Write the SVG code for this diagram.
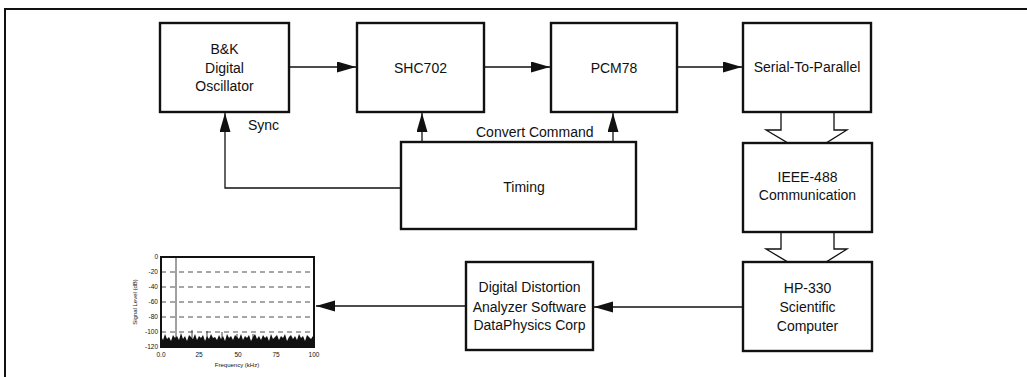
<svg xmlns="http://www.w3.org/2000/svg" width="1027" height="377" viewBox="0 0 1027 377">
<style>
.box{fill:#fff;stroke:#111;stroke-width:2.4}
.lbl{font-family:"Liberation Sans",Arial,sans-serif;font-size:14px;fill:#111;text-anchor:middle}
.lt{font-family:"Liberation Sans",Arial,sans-serif;font-size:14px;fill:#111}
.cn{fill:none;stroke:#111;stroke-width:1.3}
.hol{fill:#fff;stroke:#111;stroke-width:1.3}
.tk{font-family:"Liberation Sans",Arial,sans-serif;font-size:6.5px;fill:#111}
.grid{stroke:#222;stroke-width:0.8;stroke-dasharray:5,4}
</style>
<defs>
<marker id="ah" markerUnits="userSpaceOnUse" markerWidth="20" markerHeight="12" refX="19" refY="5.5" orient="auto">
<path d="M0,0 L19,5.5 L0,11 Z" fill="#111"/>
</marker>
</defs>
<rect width="1027" height="377" fill="#fff"/>
<g id="frame">
<path d="M4,9 L1027,9 M5,9 L5,377" fill="none" stroke="#111" stroke-width="2"/>
</g>
<g id="connectors">
<path class="cn" d="M289,67 L356,67" marker-end="url(#ah)"/>
<path class="cn" d="M484,67 L550,67" marker-end="url(#ah)"/>
<path class="cn" d="M677,67 L742,67" marker-end="url(#ah)"/>
<path class="cn" d="M401,188 L225,188 L225,113" marker-end="url(#ah)"/>
<path class="cn" d="M422,142 L422,113" marker-end="url(#ah)"/>
<path class="cn" d="M613,142 L613,113" marker-end="url(#ah)"/>
<path class="cn" d="M743,307 L594,307" marker-end="url(#ah)"/>
<path class="cn" d="M466,306 L316,306" marker-end="url(#ah)"/>
<path class="hol" d="M781,112 L781,130 L766,130 L788,143 L826,143 L847,130 L834,130 L834,112"/>
<path class="hol" d="M781,232 L781,249 L766,249 L788,262 L826,262 L847,249 L834,249 L834,232"/>
<text class="lt" x="248" y="130">Sync</text>
<text class="lt" x="476" y="137">Convert Command</text>
</g>
<g id="oscillator">
<rect class="box" x="160" y="23" width="129" height="89"/>
<text class="lbl" x="224.5" y="54">B&amp;K</text>
<text class="lbl" x="224.5" y="73">Digital</text>
<text class="lbl" x="224.5" y="91">Oscillator</text>
</g>
<g id="shc702">
<rect class="box" x="357" y="23" width="127" height="89"/>
<text class="lbl" x="420.5" y="73">SHC702</text>
</g>
<g id="pcm78">
<rect class="box" x="551" y="23" width="126" height="89"/>
<text class="lbl" x="614" y="73">PCM78</text>
</g>
<g id="serial">
<rect class="box" x="743" y="23" width="128" height="89"/>
<text class="lbl" x="807" y="72">Serial-To-Parallel</text>
</g>
<g id="timing">
<rect class="box" x="401" y="142" width="235" height="87"/>
<text class="lbl" x="524" y="192">Timing</text>
</g>
<g id="ieee">
<rect class="box" x="743" y="143" width="129" height="89"/>
<text class="lbl" x="807.5" y="182">IEEE-488</text>
<text class="lbl" x="807.5" y="200">Communication</text>
</g>
<g id="hp330">
<rect class="box" x="743" y="262" width="129" height="89"/>
<text class="lbl" x="807.5" y="293">HP-330</text>
<text class="lbl" x="807.5" y="312">Scientific</text>
<text class="lbl" x="807.5" y="331">Computer</text>
</g>
<g id="analyzer">
<rect class="box" x="466" y="262" width="127" height="88"/>
<text class="lbl" x="529.5" y="292">Digital Distortion</text>
<text class="lbl" x="529.5" y="312">Analyzer Software</text>
<text class="lbl" x="529.5" y="330">DataPhysics Corp</text>
</g>
<g id="chart">
<line class="grid" x1="161" y1="272" x2="314" y2="272"/>
<line class="grid" x1="161" y1="287" x2="314" y2="287"/>
<line class="grid" x1="161" y1="302" x2="314" y2="302"/>
<line class="grid" x1="161" y1="317" x2="314" y2="317"/>
<line class="grid" x1="161" y1="332" x2="314" y2="332"/>
<polygon fill="#111" points="161,347 161,336 163,340 165,334 167,339 169,337 171,341 173,335 175,338 177,336 179,340 181,333 183,339 185,336 187,341 189,335 191,337 193,339 195,334 197,340 199,336 201,338 203,335 205,341 207,336 209,339 211,334 213,338 215,337 217,340 219,335 221,339 223,336 225,341 227,334 229,338 231,336 233,340 235,335 237,337 239,339 241,334 243,340 245,336 247,338 249,335 251,341 253,337 255,334 257,339 259,336 261,340 263,335 265,338 267,336 269,341 271,334 273,339 275,337 277,335 279,340 281,336 283,338 285,334 287,341 289,337 291,335 293,339 295,336 297,340 299,334 301,338 303,336 305,341 307,335 309,337 311,339 313,336 313,347"/>
<path d="M176,347 L176,257 M192,338 L192,330 M207,338 L207,331 M222,338 L222,332 M237,338 L237,334 M253,338 L253,334" stroke="#111" stroke-width="0.8" fill="none"/>
<rect x="161" y="257" width="153" height="90" fill="none" stroke="#111" stroke-width="2"/>
<g class="tk" text-anchor="end">
<text x="158" y="259">0</text>
<text x="158" y="274">-20</text>
<text x="158" y="289">-40</text>
<text x="158" y="304">-60</text>
<text x="158" y="319">-80</text>
<text x="158" y="334">-100</text>
<text x="158" y="349">-120</text>
</g>
<g class="tk" text-anchor="middle">
<text x="161" y="357">0.0</text>
<text x="199" y="357">25</text>
<text x="238" y="357">50</text>
<text x="276" y="357">75</text>
<text x="314" y="357">100</text>
<text x="237" y="367" font-size="6">Frequency (kHz)</text>
<text transform="translate(137,302) rotate(-90)" font-size="6">Signal Level (dB)</text>
</g>
</g>
</svg>
